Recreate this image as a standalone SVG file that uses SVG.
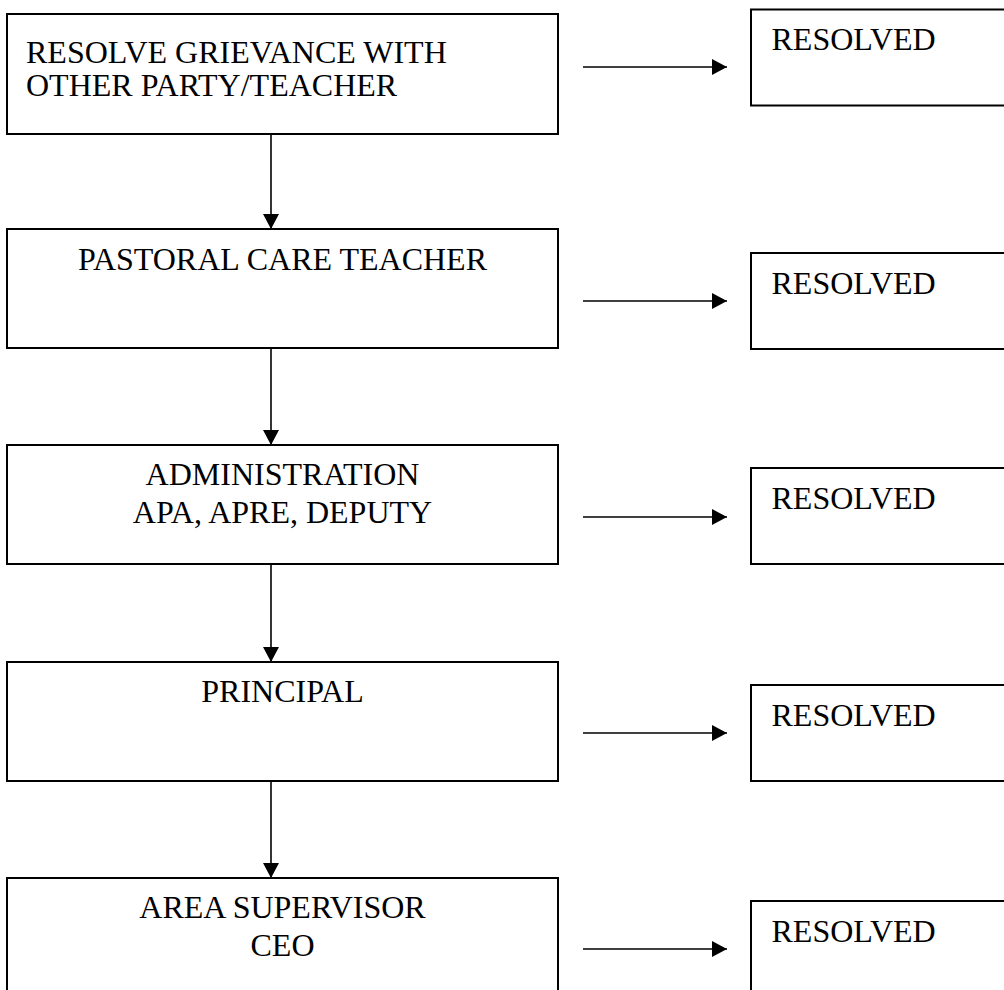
<svg xmlns="http://www.w3.org/2000/svg" width="1004" height="990" viewBox="0 0 1004 990">
<style>
.box{fill:#fff;stroke:#000;stroke-width:2}
.t{font-family:"Liberation Serif","Times New Roman",serif;font-size:32px;fill:#000}
.c{text-anchor:middle}
.ln{stroke:#000;stroke-width:1.6;fill:none}
</style>
<defs>
<marker id="ah" viewBox="0 0 15 16" refX="15" refY="8" markerWidth="15" markerHeight="16" markerUnits="userSpaceOnUse" orient="auto">
<path d="M0,0 L15,8 L0,16 Z" fill="#000"/>
</marker>
</defs>
<rect width="1004" height="990" fill="#fff"/>
<g id="connectors">
<line class="ln" x1="271" y1="134" x2="271" y2="229" marker-end="url(#ah)"/>
<line class="ln" x1="271" y1="348" x2="271" y2="445" marker-end="url(#ah)"/>
<line class="ln" x1="271" y1="564" x2="271" y2="662" marker-end="url(#ah)"/>
<line class="ln" x1="271" y1="781" x2="271" y2="878" marker-end="url(#ah)"/>
<line class="ln" x1="583" y1="67" x2="727" y2="67" marker-end="url(#ah)"/>
<line class="ln" x1="583" y1="301" x2="727" y2="301" marker-end="url(#ah)"/>
<line class="ln" x1="583" y1="517" x2="727" y2="517" marker-end="url(#ah)"/>
<line class="ln" x1="583" y1="733" x2="727" y2="733" marker-end="url(#ah)"/>
<line class="ln" x1="583" y1="949" x2="727" y2="949" marker-end="url(#ah)"/>
</g>
<g id="step1">
<rect class="box" x="7" y="14" width="551" height="120"/>
<text class="t" x="26" y="62.5">RESOLVE GRIEVANCE WITH</text>
<text class="t" x="26" y="96">OTHER PARTY/TEACHER</text>
</g>
<g id="step2">
<rect class="box" x="7" y="229" width="551" height="119"/>
<text class="t c" x="282.5" y="270">PASTORAL CARE TEACHER</text>
</g>
<g id="step3">
<rect class="box" x="7" y="445" width="551" height="119"/>
<text class="t c" x="282.5" y="485">ADMINISTRATION</text>
<text class="t c" x="282.5" y="523">APA, APRE, DEPUTY</text>
</g>
<g id="step4">
<rect class="box" x="7" y="662" width="551" height="119"/>
<text class="t c" x="282.5" y="702">PRINCIPAL</text>
</g>
<g id="step5">
<rect class="box" x="7" y="878" width="551" height="120"/>
<text class="t c" x="282.5" y="918">AREA SUPERVISOR</text>
<text class="t c" x="282.5" y="956">CEO</text>
</g>
<g id="resolved1">
<rect class="box" x="751" y="9.5" width="300" height="96"/>
<text class="t" x="771.5" y="50">RESOLVED</text>
</g>
<g id="resolved2">
<rect class="box" x="751" y="253" width="300" height="96"/>
<text class="t" x="771.5" y="294">RESOLVED</text>
</g>
<g id="resolved3">
<rect class="box" x="751" y="468" width="300" height="96"/>
<text class="t" x="771.5" y="509">RESOLVED</text>
</g>
<g id="resolved4">
<rect class="box" x="751" y="685" width="300" height="96"/>
<text class="t" x="771.5" y="726">RESOLVED</text>
</g>
<g id="resolved5">
<rect class="box" x="751" y="901" width="300" height="96"/>
<text class="t" x="771.5" y="942">RESOLVED</text>
</g>
</svg>
